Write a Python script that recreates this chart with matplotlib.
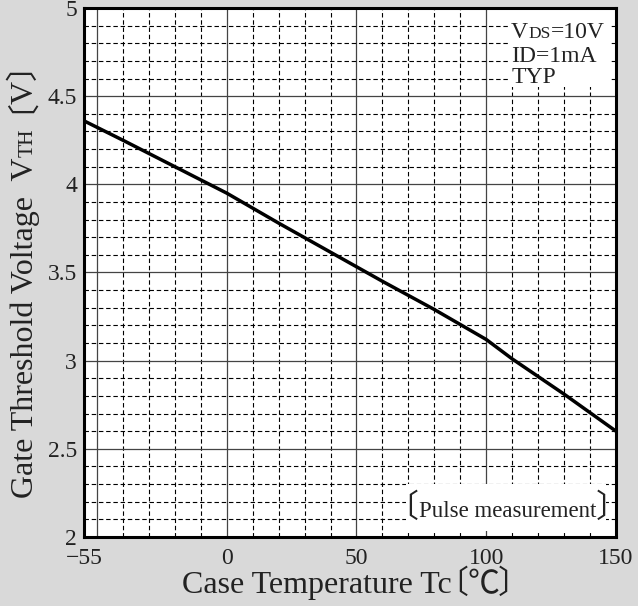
import matplotlib
matplotlib.use('Agg')
import matplotlib.pyplot as plt
from matplotlib.patches import Rectangle
from matplotlib.transforms import blended_transform_factory

# values
temp_c = [-55, -40, -20, 0, 20, 40, 60, 80, 100, 110, 130, 150]
vth = [4.36, 4.25, 4.10, 3.95, 3.78, 3.615, 3.45, 3.29, 3.12, 3.01, 2.81, 2.60]

xticks = [-55, 0, 50, 100, 150]
xticklabels = ['\u221255', '0', '50', '100', '150']
yticks = [2, 2.5, 3, 3.5, 4, 4.5, 5]
yticklabels = ['2', '2.5', '3', '3.5', '4', '4.5', '5']

SERIF = ['Liberation Serif', 'Noto Sans CJK JP', 'DejaVu Sans']
CJK = 'Noto Sans CJK JP'
TXT = '#222222'
plt.rcParams['font.family'] = SERIF

W, H = 638, 606
fig = plt.figure(figsize=(W / 100, H / 100), dpi=100, facecolor='#d9d9d9')
ax = fig.add_axes([0.1317, 0.1139, 0.8338, 0.8729])
ax.set_facecolor('white')
ax.set_xlim(-55, 150)
ax.set_ylim(2, 5)

# grid: solid every 50 / 0.5, dashed every 10 / 0.1
for x in range(-50, 150, 10):
    if x % 50 == 0:
        ax.axvline(x, color='#444444', lw=0.9, zorder=1)
    else:
        ax.axvline(x, color='black', lw=0.8, ls=(0, (4, 2.5)), zorder=1)
for k in range(21, 50):
    if k % 5 == 0:
        ax.axhline(k / 10, color='#444444', lw=0.9, zorder=1)
    else:
        ax.axhline(k / 10, color='black', lw=0.8, ls=(0, (4, 2.5)), zorder=1)

ax.plot(temp_c, vth, color='black', lw=2.5, zorder=3, solid_capstyle='butt')

ax.set_xticks(xticks)
ax.set_xticklabels(xticklabels)
ax.set_yticks(yticks)
ax.set_yticklabels(yticklabels)
ax.tick_params(length=0, labelsize=17, labelcolor=TXT)
ax.tick_params(axis='x', pad=8)
ax.tick_params(axis='y', pad=5)
for s in ax.spines.values():
    s.set_linewidth(2.2)
    s.set_zorder(5)

# condition box, top right
ax.add_patch(Rectangle((0.797, 0.851), 0.19, 0.145, transform=ax.transAxes,
                       facecolor='white', edgecolor='none', zorder=2))
t1 = ax.text(0.803, 0.943, 'V', transform=ax.transAxes, ha='left', va='baseline',
             size=17, color=TXT, zorder=4)
t2 = ax.annotate('DS', xy=(1, 0.943), xycoords=(t1, ax.transAxes), ha='left',
                 va='baseline', size=12.5, color=TXT, zorder=4)
ax.annotate('=10V', xy=(1, 0.943), xycoords=(t2, ax.transAxes), ha='left',
            va='baseline', size=17, color=TXT, zorder=4)
ax.text(0.803, 0.898, 'ID=1mA', transform=ax.transAxes, ha='left', va='baseline',
        size=17, color=TXT, zorder=4)
ax.text(0.803, 0.858, 'TYP', transform=ax.transAxes, ha='left', va='baseline',
        size=17, color=TXT, zorder=4)

# pulse measurement box, bottom right
ax.add_patch(Rectangle((0.605, 0.012), 0.376, 0.088, transform=ax.transAxes,
                       facecolor='white', edgecolor='none', zorder=2))
pm = ax.text(0.7955, 0.038, 'Pulse measurement', transform=ax.transAxes,
             ha='center', va='baseline', size=16.5, color=TXT, zorder=4)


def chain(pieces, center, cross, vertical):
    # lay text pieces end to end along one baseline, centred on `center` (px)
    # flip=True: draw the mirrored bracket turned the other way round
    # (a turned opening bracket is placed badly by the renderer)
    texts = []
    for s, size, gap, fam, flip in pieces:
        if vertical and flip:
            t = fig.text(0, 0, s, size=size, color=TXT, family=fam, rotation=270,
                         rotation_mode='anchor', ha='right', va='baseline')
        else:
            t = fig.text(0, 0, s, size=size, color=TXT, family=fam,
                         rotation=90 if vertical else 0,
                         rotation_mode='anchor', ha='left', va='baseline')
        texts.append(t)
    fig.canvas.draw()
    r = fig.canvas.get_renderer()
    lens = []
    for t in texts:
        bb = t.get_window_extent(r)
        lens.append(bb.height if vertical else bb.width)
    gaps = [p[2] * p[1] * 100 / 72 for p in pieces]
    total = sum(lens) + sum(gaps[1:])
    pos = center - total / 2
    for i, t in enumerate(texts):
        if i > 0:
            pos += gaps[i]
        if vertical:
            c = cross
            if pieces[i][4]:
                c = cross - 0.76 * pieces[i][1] * 100 / 72
            t.set_position((c / W, pos / H))
        else:
            t.set_position((pos / W, cross / H))
        pos += lens[i]


chain([('Case Temperature Tc', 23, 0, SERIF, False),
       ('\u3014', 23, -0.5, CJK, False),
       ('\u2103', 23, -0.02, CJK, False),
       ('\u3015', 23, -0.05, CJK, False)], 356, 13, False)
chain([('Gate Threshold Voltage  V', 23, 0, SERIF, False),
       ('TH', 15.5, 0, SERIF, False),
       ('\u3015', 23, -0.22, CJK, True),
       ('V', 23, 0.0, SERIF, False),
       ('\u3015', 23, 0, CJK, False)], 606 - 273, 33, True)

fig.canvas.draw()
r = fig.canvas.get_renderer()
bb = pm.get_window_extent(r)
bt = blended_transform_factory(fig.transFigure, ax.transAxes)
ax.text(bb.x0 / W, 0.038, '\u3014', transform=bt, size=23, color=TXT,
        family=CJK, zorder=4, ha='right', va='baseline')
ax.text(bb.x1 / W, 0.038, '\u3015', transform=bt, size=23, color=TXT,
        family=CJK, zorder=4, ha='left', va='baseline')

fig.savefig('out.png', dpi=100, facecolor=fig.get_facecolor())
